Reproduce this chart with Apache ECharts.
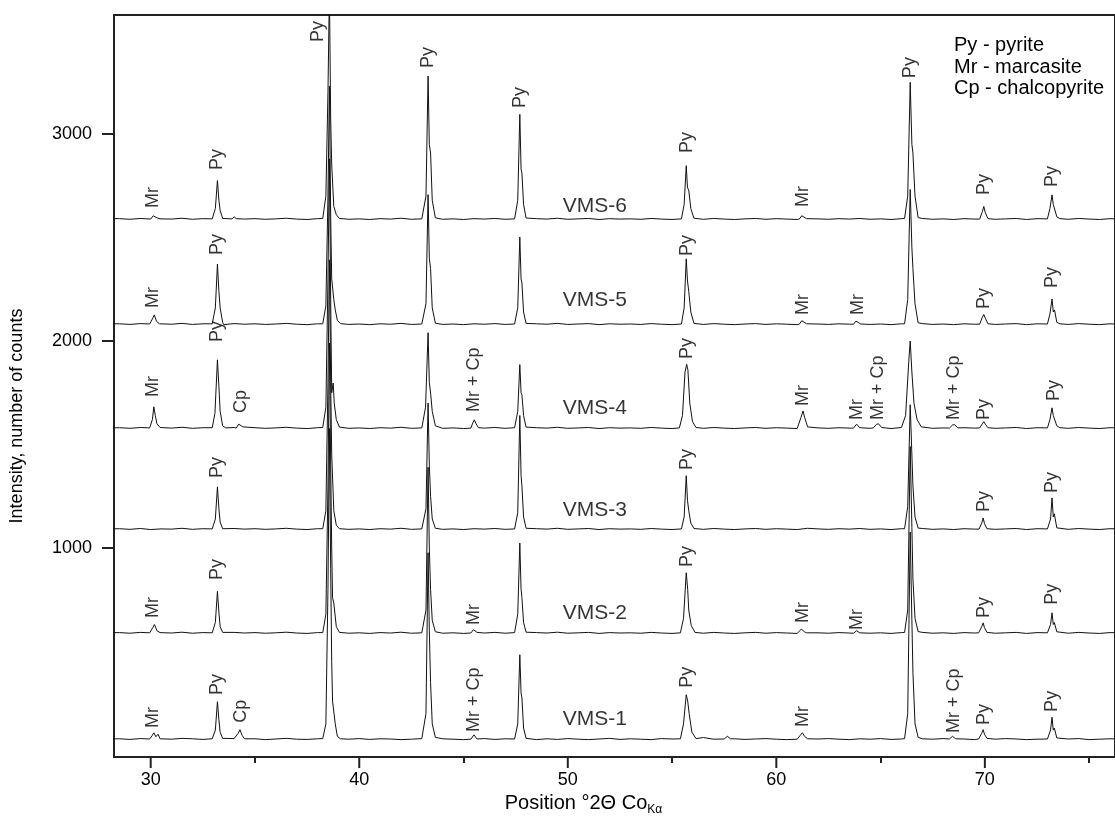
<!DOCTYPE html>
<html><head><meta charset="utf-8">
<script src="https://cdn.jsdelivr.net/npm/echarts@6/dist/echarts.min.js"></script>
<style>html,body{margin:0;padding:0;background:#fff}#c{width:1115px;height:836px}</style>
</head><body><div id="c"></div>
<script>
// ---- axis ticks ----
const xMajorTicks = [30, 40, 50, 60, 70];
const xMinorTicks = [35, 45, 55, 65, 75];
const yTicks = [1000, 2000, 3000];

// ---- baseline samples (counts) every 0.5 deg 2theta from 28.0 to 76.5 ----
const BASE_START = 28.0, BASE_STEP = 0.5;
const vms1Base = [77,78,75,79,74,77,76,80,78,75,77,76,79,75,78,74,77,80,76,75,78,74,77,76,79,75,78,77,74,76,79,75,78,76,74,77,79,75,78,76,77,74,78,75,79,76,74,77,80,75,78,76,74,79,77,75,78,84,76,74,78,75,77,79,76,74,78,75,77,79,76,74,78,76,79,75,77,74,78,76,79,75,77,74,78,76,79,77,74,76,78,75,77,79,74,76,78,77];
const vms2Base = [590,591,588,592,587,590,589,593,588,591,590,587,592,589,591,588,590,593,589,587,591,589,592,588,590,587,591,589,593,588,590,592,588,590,587,591,589,592,588,590,587,591,589,593,588,590,592,587,591,589,590,588,592,589,587,591,590,588,592,589,587,590,592,588,591,589,587,593,590,588,591,589,592,588,590,587,591,589,592,588,590,587,591,589,593,588,590,592,587,591,589,590,588,592,589,587,591,590];
const vms3Base = [1092,1093,1090,1094,1089,1092,1091,1095,1090,1093,1092,1089,1094,1091,1093,1090,1092,1095,1091,1089,1093,1091,1094,1090,1092,1089,1093,1091,1095,1090,1092,1094,1090,1092,1089,1093,1091,1094,1090,1092,1089,1093,1091,1095,1090,1092,1094,1089,1093,1091,1092,1090,1094,1091,1089,1093,1092,1090,1094,1091,1089,1092,1094,1090,1093,1091,1089,1095,1092,1090,1093,1091,1094,1090,1092,1089,1093,1091,1094,1090,1092,1089,1093,1091,1095,1090,1092,1094,1089,1093,1091,1092,1090,1094,1091,1089,1093,1092];
const vms4Base = [1580,1581,1578,1582,1577,1580,1579,1583,1578,1581,1580,1577,1582,1579,1581,1578,1580,1583,1579,1577,1581,1579,1582,1578,1580,1577,1581,1579,1583,1578,1580,1582,1578,1580,1577,1581,1579,1582,1578,1580,1577,1581,1579,1583,1578,1580,1582,1577,1581,1579,1580,1578,1582,1579,1577,1581,1580,1578,1582,1579,1577,1580,1582,1578,1581,1579,1577,1583,1580,1578,1581,1579,1582,1578,1580,1577,1581,1579,1582,1578,1580,1577,1581,1579,1583,1578,1580,1582,1577,1581,1579,1580,1578,1582,1579,1577,1581,1580];
const vms5Base = [2083,2083,2080,2084,2079,2082,2081,2085,2080,2083,2082,2079,2084,2081,2083,2080,2082,2085,2081,2079,2083,2081,2084,2080,2082,2079,2083,2081,2085,2080,2082,2084,2080,2082,2079,2083,2081,2084,2080,2082,2079,2083,2081,2085,2080,2082,2084,2079,2083,2081,2082,2080,2084,2081,2079,2083,2082,2080,2084,2081,2079,2082,2084,2080,2083,2081,2079,2085,2082,2080,2083,2081,2084,2080,2082,2079,2083,2081,2084,2080,2082,2079,2083,2081,2085,2080,2082,2084,2079,2083,2081,2082,2080,2084,2081,2079,2083,2081];
const vms6Base = [2592,2591,2588,2592,2587,2590,2589,2593,2588,2591,2590,2587,2592,2589,2591,2588,2590,2593,2589,2587,2591,2589,2592,2588,2590,2587,2591,2589,2593,2588,2590,2592,2588,2590,2587,2591,2589,2592,2588,2590,2587,2591,2589,2593,2588,2590,2592,2587,2591,2589,2590,2588,2592,2589,2587,2591,2590,2588,2592,2589,2587,2590,2592,2588,2591,2589,2587,2593,2590,2588,2591,2589,2592,2588,2590,2587,2591,2589,2592,2588,2590,2587,2591,2589,2593,2588,2590,2592,2587,2591,2589,2590,2588,2592,2589,2587,2591,2589];

// ---- diffraction peaks: [2theta, counts] ----
const vms1Peaks = [
 [[29.95,77],[30.08,95],[30.15,107],[30.25,88],[30.35,100],[30.45,78]],
 [[32.95,78],[33.1,120],[33.2,257],[33.27,170],[33.33,110],[33.45,80]],
 [[34.05,76],[34.2,105],[34.28,122],[34.38,95],[34.5,78]],
 [[38.25,79],[38.4,150],[38.5,800],[38.57,1577],[38.63,900],[38.68,450],[38.72,260],[38.78,251],[38.85,150],[38.95,90],[39.1,78]],
 [[43.05,78],[43.2,200],[43.3,977],[43.36,600],[43.42,350],[43.5,150],[43.65,85]],
 [[45.35,76],[45.5,97],[45.65,77]],
 [[47.45,77],[47.6,150],[47.7,484],[47.76,300],[47.8,275],[47.88,130],[48.0,80]],
 [[55.4,78],[55.55,150],[55.68,291],[55.75,260],[55.82,200],[55.95,110],[56.15,79]],
 [[57.5,77],[57.65,90],[57.8,78]],
 [[61.0,76],[61.15,95],[61.25,107],[61.35,90],[61.5,78]],
 [[66.15,79],[66.3,200],[66.42,1077],[66.5,650],[66.55,400],[66.65,150],[66.8,85]],
 [[68.3,77],[68.45,90],[68.6,78]],
 [[69.7,77],[69.85,105],[69.92,122],[69.98,100],[70.1,80]],
 [[73.0,77],[73.15,120],[73.22,182],[73.28,120],[73.33,130],[73.45,82]]
];
const vms2Peaks = [
 [[29.95,590],[30.1,615],[30.18,630],[30.3,600],[30.45,591]],
 [[32.95,590],[33.1,640],[33.2,790],[33.27,690],[33.33,620],[33.45,592]],
 [[38.25,591],[38.4,680],[38.5,1300],[38.57,1990],[38.63,1400],[38.68,1000],[38.72,760],[38.78,734],[38.9,620],[39.05,592]],
 [[43.05,590],[43.2,700],[43.3,1390],[43.36,1000],[43.42,800],[43.5,650],[43.65,595]],
 [[45.35,589],[45.48,605],[45.55,611],[45.65,592]],
 [[47.45,591],[47.6,680],[47.7,1024],[47.76,800],[47.8,760],[47.88,640],[48.0,593]],
 [[55.4,590],[55.55,660],[55.68,880],[55.75,800],[55.8,700],[55.92,625],[56.1,592]],
 [[61.05,589],[61.2,608],[61.25,610],[61.35,595],[61.45,590]],
 [[63.7,588],[63.85,600],[64.0,590]],
 [[66.15,592],[66.3,700],[66.42,1490],[66.5,1100],[66.55,850],[66.65,660],[66.8,596]],
 [[69.7,590],[69.85,620],[69.92,638],[69.98,615],[70.1,592]],
 [[73.0,590],[73.15,630],[73.22,687],[73.28,630],[73.33,640],[73.45,595]]
];
const vms3Peaks = [
 [[32.95,1092],[33.1,1140],[33.2,1295],[33.27,1190],[33.33,1125],[33.45,1093]],
 [[38.25,1093],[38.4,1180],[38.5,1800],[38.57,2392],[38.63,1800],[38.68,1450],[38.78,1180],[38.9,1110],[39.05,1093]],
 [[43.05,1092],[43.2,1190],[43.3,1700],[43.36,1400],[43.42,1250],[43.5,1140],[43.65,1095]],
 [[47.45,1092],[47.6,1170],[47.7,1640],[47.76,1350],[47.8,1300],[47.88,1150],[48.0,1095]],
 [[55.45,1092],[55.58,1150],[55.68,1349],[55.74,1230],[55.8,1180],[55.9,1120],[56.05,1094]],
 [[66.15,1093],[66.3,1200],[66.42,1692],[66.5,1450],[66.55,1300],[66.65,1150],[66.8,1096]],
 [[69.72,1091],[69.85,1120],[69.92,1145],[69.98,1118],[70.1,1093]],
 [[73.0,1092],[73.15,1140],[73.22,1242],[73.28,1150],[73.33,1165],[73.45,1097]]
];
const vms4Peaks = [
 [[29.95,1580],[30.08,1620],[30.15,1682],[30.22,1640],[30.3,1600],[30.45,1582]],
 [[32.95,1581],[33.08,1650],[33.2,1909],[33.27,1780],[33.33,1660],[33.45,1590],[33.6,1580]],
 [[34.1,1579],[34.22,1598],[34.3,1604],[34.42,1585]],
 [[38.25,1582],[38.4,1680],[38.5,2300],[38.57,2880],[38.63,2200],[38.68,1750],[38.75,1797],[38.8,1700],[38.9,1620],[39.05,1584]],
 [[43.05,1581],[43.18,1680],[43.3,2040],[43.36,1800],[43.43,1740],[43.5,1660],[43.65,1590]],
 [[45.35,1579],[45.45,1605],[45.52,1619],[45.6,1600],[45.72,1581]],
 [[47.45,1581],[47.6,1660],[47.7,1886],[47.76,1750],[47.8,1740],[47.88,1640],[48.0,1584]],
 [[55.35,1580],[55.5,1640],[55.62,1850],[55.7,1887],[55.76,1860],[55.85,1700],[55.98,1610],[56.15,1582]],
 [[61.05,1580],[61.18,1630],[61.28,1662],[61.36,1630],[61.5,1585]],
 [[63.7,1579],[63.85,1598],[64.0,1581]],
 [[64.65,1580],[64.8,1597],[64.9,1600],[65.05,1582]],
 [[66.0,1582],[66.2,1640],[66.35,1900],[66.42,2000],[66.5,1850],[66.6,1700],[66.75,1620],[66.95,1585]],
 [[68.3,1579],[68.45,1594],[68.55,1596],[68.7,1580]],
 [[69.75,1580],[69.88,1600],[69.95,1610],[70.02,1598],[70.15,1581]],
 [[73.0,1580],[73.12,1620],[73.22,1677],[73.28,1640],[73.34,1645],[73.45,1590],[73.6,1581]]
];
const vms5Peaks = [
 [[29.95,2082],[30.1,2110],[30.17,2126],[30.28,2095],[30.42,2083]],
 [[32.95,2083],[33.1,2160],[33.2,2372],[33.27,2240],[33.33,2160],[33.45,2090]],
 [[38.25,2083],[38.4,2170],[38.5,2700],[38.57,3232],[38.63,2600],[38.68,2300],[38.78,2200],[38.85,2150],[38.95,2100],[39.1,2084]],
 [[43.05,2082],[43.2,2180],[43.3,2707],[43.36,2400],[43.42,2350],[43.5,2160],[43.65,2086]],
 [[47.45,2082],[47.6,2160],[47.7,2502],[47.76,2300],[47.8,2280],[47.88,2140],[48.0,2085]],
 [[55.45,2082],[55.58,2160],[55.68,2397],[55.74,2290],[55.8,2240],[55.9,2140],[56.05,2085]],
 [[61.1,2081],[61.22,2098],[61.3,2100],[61.45,2083]],
 [[63.7,2081],[63.82,2096],[63.9,2099],[64.05,2082]],
 [[66.15,2083],[66.3,2200],[66.42,2732],[66.5,2450],[66.55,2350],[66.65,2180],[66.8,2088]],
 [[69.75,2081],[69.88,2115],[69.95,2128],[70.02,2110],[70.15,2083]],
 [[73.0,2082],[73.12,2130],[73.22,2203],[73.28,2140],[73.34,2150],[73.45,2090],[73.6,2083]]
];
const vms6Peaks = [
 [[30.0,2589],[30.12,2605],[30.18,2612],[30.3,2595],[30.45,2590]],
 [[32.95,2590],[33.1,2640],[33.2,2775],[33.27,2680],[33.33,2630],[33.45,2592]],
 [[33.9,2590],[34.0,2600],[34.1,2591]],
 [[38.25,2592],[38.4,2700],[38.5,3200],[38.57,3700],[38.63,3077],[38.68,2850],[38.78,2650],[38.9,2610],[39.05,2592]],
 [[43.05,2590],[43.2,2700],[43.3,3280],[43.36,2950],[43.42,2908],[43.5,2680],[43.65,2595]],
 [[47.45,2590],[47.6,2680],[47.7,3095],[47.76,2830],[47.8,2812],[47.88,2660],[48.0,2594]],
 [[55.45,2590],[55.58,2660],[55.68,2847],[55.74,2740],[55.8,2729],[55.9,2640],[56.05,2593]],
 [[61.1,2589],[61.22,2605],[61.3,2609],[61.45,2591]],
 [[66.15,2592],[66.3,2700],[66.42,3250],[66.5,2950],[66.55,2908],[66.65,2700],[66.8,2596]],
 [[69.75,2589],[69.88,2625],[69.95,2650],[70.02,2620],[70.15,2591]],
 [[73.0,2590],[73.12,2640],[73.22,2706],[73.28,2660],[73.34,2665],[73.45,2600],[73.6,2591]]
];

// ---- phase labels: [2theta, counts at start of label, text] ----
const vms6Labels = [[30.13,2643,'Mr'],[33.2,2826,'Py'],[38.0,3444,'Py'],[43.3,3319,'Py'],[47.7,3126,'Py'],[55.7,2908,'Py'],[61.3,2647,'Mr'],[66.43,3270,'Py'],[69.95,2705,'Py'],[73.24,2744,'Py']];
const vms5Labels = [[30.13,2159,'Mr'],[33.2,2415,'Py'],[55.7,2411,'Py'],[61.3,2126,'Mr'],[63.9,2126,'Mr'],[69.95,2155,'Py'],[73.24,2256,'Py']];
const vms4Labels = [[30.13,1729,'Mr'],[33.2,1995,'Py'],[34.33,1652,'Cp'],[45.52,1657,'Mr + Cp'],[55.7,1913,'Py'],[61.3,1686,'Mr'],[63.86,1618,'Mr'],[64.86,1618,'Mr + Cp'],[68.5,1618,'Mr + Cp'],[69.95,1618,'Py'],[73.3,1710,'Py']];
const vms3Labels = [[33.2,1338,'Py'],[55.7,1377,'Py'],[69.95,1174,'Py'],[73.24,1266,'Py']];
const vms2Labels = [[30.13,662,'Mr'],[33.2,845,'Py'],[45.52,628,'Mr'],[55.7,908,'Py'],[61.3,638,'Mr'],[63.86,604,'Mr'],[69.95,662,'Py'],[73.24,725,'Py']];
const vms1Labels = [[30.13,130,'Mr'],[33.2,290,'Py'],[34.33,155,'Cp'],[45.52,111,'Mr + Cp'],[55.7,324,'Py'],[61.3,135,'Mr'],[68.5,106,'Mr + Cp'],[69.95,145,'Py'],[73.24,208,'Py']];

// ---- sample names: [2theta, counts, name] ----
const sampleNames = [[51.3,174,'VMS-1'],[51.3,686,'VMS-2'],[51.3,1184,'VMS-3'],[51.3,1676,'VMS-4'],[51.3,2198,'VMS-5'],[51.3,2652,'VMS-6']];

const legendLines = ['Py - pyrite', 'Mr - marcasite', 'Cp - chalcopyrite'];

function buildTrace(base, peaks) {
  const pts = [];
  base.forEach((v, i) => {
    const x = BASE_START + i * BASE_STEP;
    if (!peaks.some(g => x >= g[0][0] && x <= g[g.length - 1][0])) pts.push([x, v]);
  });
  peaks.forEach(g => g.forEach(p => pts.push(p)));
  pts.sort((a, b) => a[0] - b[0]);
  return pts;
}

const FONT = '"Liberation Sans", Arial, sans-serif';
const INK = '#000';
const X_MIN = 28.24, X_MAX = 76.24, Y_MIN = -10, Y_MAX = 3575;
const traces = [
  buildTrace(vms1Base, vms1Peaks), buildTrace(vms2Base, vms2Peaks), buildTrace(vms3Base, vms3Peaks),
  buildTrace(vms4Base, vms4Peaks), buildTrace(vms5Base, vms5Peaks), buildTrace(vms6Base, vms6Peaks)
];
const allLabels = [].concat(vms1Labels, vms2Labels, vms3Labels, vms4Labels, vms5Labels, vms6Labels);

const series = traces.map((d, i) => ({
  type: 'line', name: 'VMS-' + (i + 1), data: d, showSymbol: false, symbol: 'none',
  lineStyle: { color: '#111', width: 1 }, clip: true, silent: true, z: 3
}));
series.push({
  type: 'scatter', symbolSize: 1, itemStyle: { color: 'rgba(0,0,0,0)' }, silent: true, z: 4,
  data: allLabels.map(l => ({ name: l[2], value: [l[0], l[1]] })),
  label: { show: true, formatter: '{b}', position: 'inside', rotate: 90, align: 'left', verticalAlign: 'middle',
    fontSize: 18, fontFamily: FONT, color: INK }
});
series.push({
  type: 'scatter', symbolSize: 1, itemStyle: { color: 'rgba(0,0,0,0)' }, silent: true, z: 4,
  data: sampleNames.map(l => ({ name: l[2], value: [l[0], l[1]] })),
  label: { show: true, formatter: '{b}', position: 'inside', align: 'center', verticalAlign: 'middle',
    fontSize: 21, fontFamily: FONT, color: INK }
});
// major x ticks, drawn below the axis line through the axis scale
series.push({
  type: 'custom', silent: true, clip: false, z: 10,
  data: xMajorTicks.map(v => [v, Y_MIN]),
  encode: { x: 0, y: 1 },
  renderItem: function (params, api) {
    const p = api.coord([api.value(0), api.value(1)]);
    return { type: 'line', shape: { x1: p[0], y1: p[1], x2: p[0], y2: p[1] + 11 },
             style: { stroke: '#222', lineWidth: 2 } };
  }
});

const chart = echarts.init(document.getElementById('c'), null, { renderer: 'canvas' });
chart.setOption({
  animation: false,
  backgroundColor: '#fff',
  title: {
    text: legendLines.join('\n'), left: 949, top: 30,
    textStyle: { fontSize: 20, fontWeight: 'normal', fontFamily: FONT, color: INK, lineHeight: 21.5 }
  },
  grid: { left: 112, top: 15, right: -5, bottom: 79, show: true, borderColor: '#222', borderWidth: 2, backgroundColor: 'transparent' },
  xAxis: [
    {
      type: 'value', min: X_MIN, max: X_MAX, position: 'bottom',
      axisLine: { show: true, onZero: false, lineStyle: { color: '#222', width: 2 } },
      axisTick: { show: true, inside: false, customValues: xMinorTicks.slice(), length: 6, lineStyle: { color: '#222', width: 2 } },
      axisLabel: { show: true, customValues: xMajorTicks.slice(), fontSize: 18, fontFamily: FONT, color: INK, margin: 14 },
      splitLine: { show: false },
      name: '{a|Position °2Θ Co}{b|Kα}', nameLocation: 'middle', nameGap: 36,
      nameTextStyle: { fontFamily: FONT, color: INK, padding: [0, 62, 0, 0],
        rich: { a: { fontSize: 20, fontFamily: FONT, color: INK, lineHeight: 22, verticalAlign: 'top' },
                b: { fontSize: 12, fontFamily: FONT, color: INK, lineHeight: 14, padding: [8, 0, 0, 0], verticalAlign: 'bottom' } } }
    }
  ],
  yAxis: {
    type: 'value', min: Y_MIN, max: Y_MAX,
    axisLine: { show: true, onZero: false, lineStyle: { color: '#222', width: 2 } },
    axisTick: { show: true, customValues: yTicks.slice(), length: 12, lineStyle: { color: '#222', width: 2 } },
    axisLabel: { show: true, customValues: yTicks.slice(), formatter: v => String(v), fontSize: 18, fontFamily: FONT, color: INK, margin: 22 },
    splitLine: { show: false },
    name: 'Intensity, number of counts', nameLocation: 'middle', nameGap: 88,
    nameTextStyle: { fontSize: 18, fontFamily: FONT, color: INK, padding: [0, 60, 0, 0] }
  },
  series: series
});
</script>
</body></html>
